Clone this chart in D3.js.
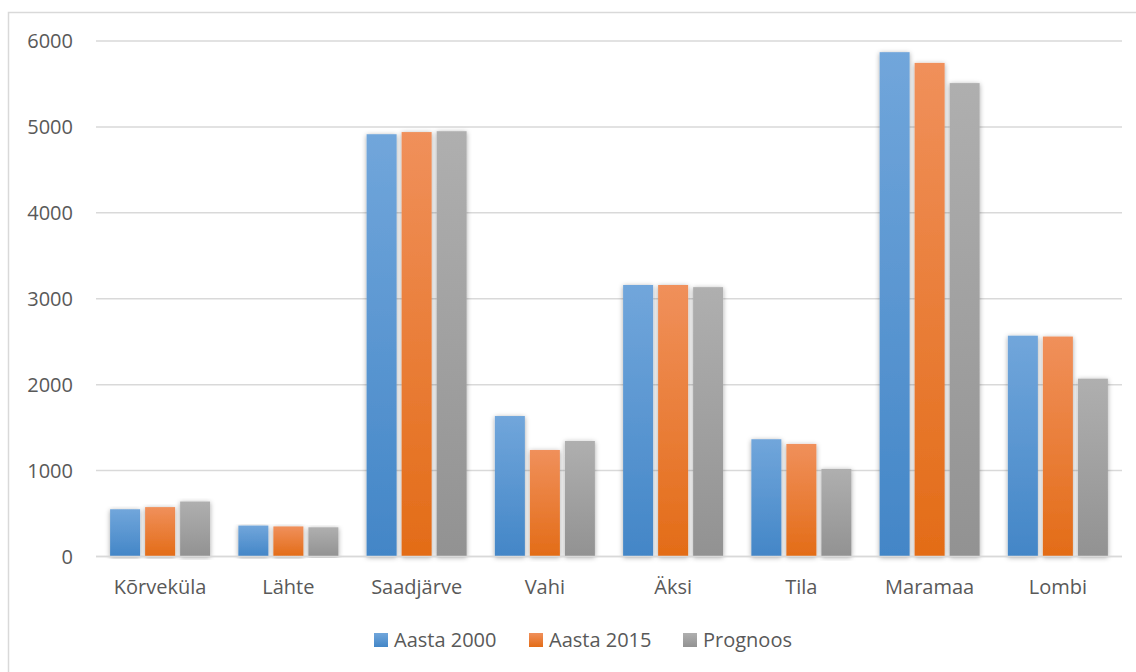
<!DOCTYPE html>
<html>
<head>
<meta charset="utf-8">
<script src="https://cdn.jsdelivr.net/npm/d3@7"></script>
<style>
  body { margin: 0; background: #fff; }
  svg text { font-family: "Open Sans", sans-serif; fill: #595959; }
</style>
</head>
<body>
<svg width="1136" height="672"></svg>
<script>
  // Chart data
  const categories = ['Kõrveküla', 'Lähte', 'Saadjärve', 'Vahi', 'Äksi', 'Tila', 'Maramaa', 'Lombi'];
  const seriesNames = ['Aasta 2000', 'Aasta 2015', 'Prognoos'];
  const aasta2000 = [550, 360, 4915, 1635, 3160, 1365, 5870, 2570];
  const aasta2015 = [575, 350, 4940, 1240, 3160, 1310, 5745, 2560];
  const prognoos = [640, 340, 4950, 1345, 3135, 1020, 5510, 2070];
  const yTicks = [0, 1000, 2000, 3000, 4000, 5000, 6000];

  // colours: [top, bottom] of each bar gradient
  const seriesColors = [
    ['#71a6db', '#4386c7'],
    ['#f0905b', '#e36c17'],
    ['#afafaf', '#929292']
  ];

  const seriesValues = [aasta2000, aasta2015, prognoos];
  const rows = categories.map((c, i) => ({
    category: c,
    values: seriesNames.map((s, j) => ({ series: j, value: seriesValues[j][i] }))
  }));

  const svg = d3.select('svg');
  const defs = svg.append('defs');

  // vertical gradients for the bars
  seriesColors.forEach((c, i) => {
    const g = defs.append('linearGradient')
      .attr('id', 'grad' + i)
      .attr('x1', 0).attr('y1', 0).attr('x2', 0).attr('y2', 1);
    g.append('stop').attr('offset', '0%').attr('stop-color', c[0]);
    g.append('stop').attr('offset', '100%').attr('stop-color', c[1]);
  });

  // soft shadow round the bars
  const shadow = defs.append('filter').attr('id', 'shadow')
    .attr('x', '-30%').attr('y', '-5%').attr('width', '160%').attr('height', '110%');
  shadow.append('feDropShadow')
    .attr('dx', 0).attr('dy', 1)
    .attr('stdDeviation', 2.5)
    .attr('flood-color', '#000')
    .attr('flood-opacity', 0.35);

  // outer border of chart area
  svg.append('rect')
    .attr('x', 8.5).attr('y', 12.5)
    .attr('width', 1140).attr('height', 680)
    .attr('fill', 'none')
    .attr('stroke', '#d9d9d9')
    .attr('stroke-width', 1.5);

  const plotLeft = 96, plotRight = 1122;

  const x0 = d3.scaleBand()
    .domain(categories)
    .range([plotLeft, plotRight])
    .paddingInner(0.22)
    .paddingOuter(0.11);

  const x1 = d3.scaleBand()
    .domain(d3.range(seriesNames.length))
    .range([0, x0.bandwidth()])
    .paddingInner(0.143);

  const y = d3.scaleLinear()
    .domain([0, 6000])
    .range([556.5, 41]);

  // gridlines
  svg.append('g')
    .selectAll('line')
    .data(yTicks)
    .enter().append('line')
    .attr('x1', plotLeft)
    .attr('x2', plotRight)
    .attr('y1', d => y(d))
    .attr('y2', d => y(d))
    .attr('stroke', '#d9d9d9')
    .attr('stroke-width', 1.5);

  // y axis labels
  svg.append('g')
    .selectAll('text')
    .data(yTicks)
    .enter().append('text')
    .attr('x', 73)
    .attr('y', d => y(d))
    .attr('dy', '0.35em')
    .attr('text-anchor', 'end')
    .style('font-size', '20px')
    .text(d => d);

  // bars
  const groups = svg.append('g')
    .selectAll('g')
    .data(rows)
    .enter().append('g')
    .attr('transform', d => `translate(${x0(d.category)},0)`);

  groups.selectAll('rect')
    .data(d => d.values)
    .enter().append('rect')
    .attr('x', d => x1(d.series))
    .attr('y', d => y(d.value))
    .attr('width', x1.bandwidth())
    .attr('height', d => y(0) - y(d.value))
    .attr('fill', d => `url(#grad${d.series})`)
    .attr('filter', 'url(#shadow)');

  // x axis line drawn on top of bars
  svg.append('line')
    .attr('x1', plotLeft).attr('x2', plotRight)
    .attr('y1', y(0)).attr('y2', y(0))
    .attr('stroke', '#d9d9d9')
    .attr('stroke-width', 1.5);

  // category labels
  svg.append('g')
    .selectAll('text')
    .data(categories)
    .enter().append('text')
    .attr('x', d => x0(d) + x0.bandwidth() / 2)
    .attr('y', 594)
    .attr('text-anchor', 'middle')
    .style('font-size', '20px')
    .text(d => d);

  // legend
  const legendX = [374, 529, 683];
  const legend = svg.append('g')
    .selectAll('g')
    .data(seriesNames)
    .enter().append('g')
    .attr('transform', (d, i) => `translate(${legendX[i]},633)`);

  legend.append('rect')
    .attr('width', 14).attr('height', 14)
    .attr('fill', (d, i) => `url(#grad${i})`);

  legend.append('text')
    .attr('x', 20)
    .attr('y', 14)
    .style('font-size', '20px')
    .text(d => d);
</script>
</body>
</html>
